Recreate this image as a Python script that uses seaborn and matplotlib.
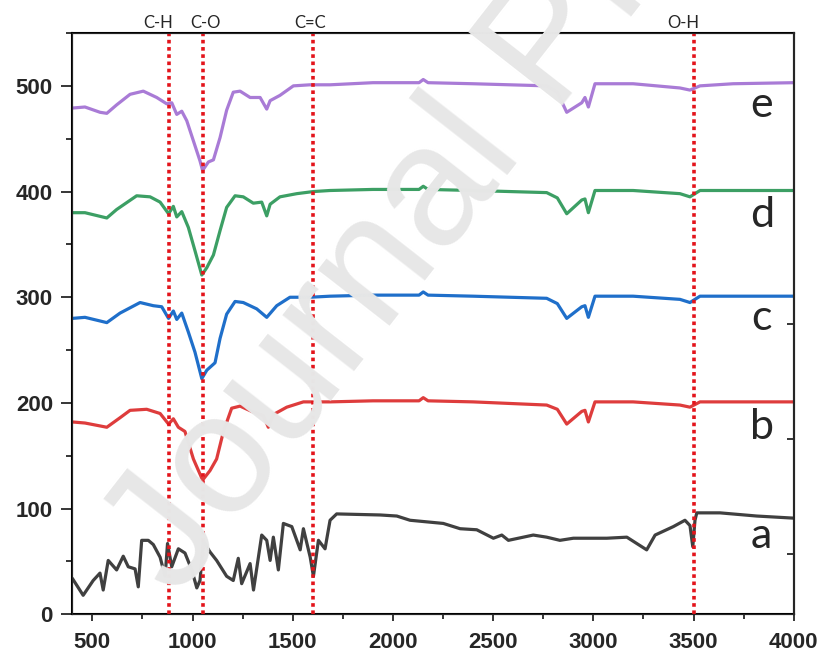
import numpy as np
import pandas as pd
import seaborn as sns
import matplotlib
matplotlib.use('Agg')
import matplotlib.pyplot as plt
from matplotlib.ticker import AutoMinorLocator

# FTIR spectra (wavenumber in cm-1, offset signal)
wn_a = [400, 454, 504, 538, 554, 579, 621, 654, 679, 713, 729, 746, 779, 804, 838,
        863, 875, 896, 929, 962, 996, 1021, 1037, 1054, 1087, 1120, 1170, 1203, 1228, 1245,
        1287, 1304, 1345, 1370, 1387, 1403, 1428, 1453, 1495, 1537, 1553, 1587, 1603, 1628, 1661,
        1686, 1719, 1936, 2019, 2085, 2251, 2335, 2418, 2501, 2543, 2576, 2700, 2767, 2833, 2900,
        3067, 3167, 3266, 3308, 3399, 3457, 3482, 3496, 3507, 3516, 3632, 3815, 4000]
sig_a = [34, 18, 32, 39, 23, 51, 42, 55, 45, 43, 26, 70, 70, 66, 54,
         36, 67, 45, 62, 58, 42, 25, 32, 69, 59, 51, 36, 32, 53, 29,
         48, 23, 75, 70, 51, 73, 42, 86, 83, 61, 81, 54, 36, 70, 62,
         89, 95, 94, 93, 89, 86, 81, 80, 72, 75, 70, 75, 73, 70, 72,
         72, 73, 61, 75, 83, 89, 84, 64, 89, 96, 96, 93, 91]

wn_b = [400, 463, 572, 638, 688, 771, 838, 880, 904, 929, 962, 1004, 1050, 1087, 1120,
        1154, 1195, 1237, 1295, 1353, 1378, 1403, 1470, 1553, 1686, 1900, 2130, 2151, 2175,
        2400, 2767, 2820, 2867, 2942, 2958, 2975, 3008, 3198, 3432, 3482, 3532, 3697, 4000]
sig_b = [182, 181, 177, 186, 193, 194, 190, 180, 185, 177, 173, 147, 127, 136, 147,
         173, 195, 197, 192, 188, 177, 189, 196, 201, 201, 202, 202, 205, 202,
         201, 198, 194, 180, 192, 193, 182, 201, 201, 198, 196, 201, 201, 201]

wn_c = [400, 463, 572, 638, 738, 804, 846, 880, 904, 921, 946, 979, 1012, 1046, 1071,
        1112, 1137, 1170, 1212, 1253, 1320, 1370, 1420, 1486, 1586, 1686, 1900, 2130, 2151,
        2175, 2400, 2767, 2820, 2867, 2942, 2958, 2975, 3008, 3198, 3432, 3482, 3532, 3697, 4000]
sig_c = [280, 281, 276, 285, 295, 292, 291, 280, 287, 279, 285, 267, 248, 223, 231,
         238, 261, 284, 296, 295, 289, 281, 292, 300, 300, 301, 302, 302, 305,
         302, 301, 299, 294, 280, 291, 292, 281, 301, 301, 298, 295, 301, 301, 301]

wn_d = [400, 463, 572, 621, 721, 788, 838, 880, 904, 921, 946, 979, 1012, 1046, 1071,
        1104, 1137, 1170, 1212, 1253, 1303, 1345, 1370, 1387, 1436, 1520, 1603, 1686, 1900,
        2130, 2151, 2175, 2400, 2767, 2820, 2867, 2942, 2958, 2975, 3008, 3198, 3432, 3482,
        3532, 3697, 4000]
sig_d = [380, 380, 375, 383, 396, 395, 390, 379, 386, 376, 381, 366, 344, 321, 328,
         340, 363, 385, 396, 395, 389, 390, 377, 388, 395, 398, 400, 401, 402,
         402, 405, 402, 401, 399, 394, 379, 392, 393, 380, 401, 401, 398, 395,
         401, 401, 401]

wn_e = [400, 463, 538, 572, 621, 688, 754, 821, 871, 896, 921, 946, 971, 1004, 1037,
        1050, 1079, 1104, 1137, 1170, 1203, 1237, 1287, 1337, 1370, 1387, 1436, 1503, 1586,
        1686, 1900, 2130, 2151, 2175, 2400, 2767, 2820, 2867, 2942, 2958, 2975, 3008, 3198,
        3432, 3482, 3532, 3697, 4000]
sig_e = [479, 480, 475, 474, 482, 492, 495, 489, 483, 484, 473, 476, 467, 448, 429,
         420, 428, 430, 451, 477, 494, 495, 489, 489, 478, 486, 491, 500, 501,
         501, 503, 503, 506, 503, 502, 500, 494, 475, 484, 489, 480, 502, 502,
         498, 496, 500, 502, 503]

samples = ["a", "b", "c", "d", "e"]
colors = ["#404040", "#de3c3c", "#1f6fca", "#3c9f64", "#a97bd6"]
letter_y = [63, 166, 269, 366, 471]

bands = [880, 1050, 1600, 3500]
band_labels = ["C-H", "C-O", "C=C", "O-H"]

sns.set_style("ticks")
plt.rcParams['font.family'] = ['Liberation Sans', 'DejaVu Sans']

frames = []
for name, wn, sig in zip(samples, [wn_a, wn_b, wn_c, wn_d, wn_e],
                         [sig_a, sig_b, sig_c, sig_d, sig_e]):
    frames.append(pd.DataFrame({"wavenumber": wn, "signal": sig, "sample": name}))
df = pd.concat(frames, ignore_index=True)

fig, ax = plt.subplots(figsize=(8.23, 6.55), dpi=100)
fig.subplots_adjust(left=0.0879, right=0.9645, bottom=0.0621, top=0.9496)

sns.lineplot(data=df, x="wavenumber", y="signal", hue="sample",
             palette=dict(zip(samples, colors)), estimator=None, sort=False,
             linewidth=2.3, legend=False, ax=ax)

for b, lab, lx in zip(bands, band_labels, [828, 1065, 1586, 3447]):
    ax.axvline(b, color="#e3141b", linestyle=(0, (1, 1)), linewidth=2.6, zorder=5)
    ax.text(lx, 1.003, lab, transform=ax.get_xaxis_transform(), ha="center",
            va="bottom", fontsize=12, family=["Lato", "DejaVu Sans"])

for name, yy in zip(samples, letter_y):
    ax.text(3840, yy, name, ha="center", va="baseline", fontsize=31,
            family=["Lato", "DejaVu Sans"])

ax.set_xlim(400, 4000)
ax.set_ylim(0, 550)
ax.set_xticks(range(500, 4001, 500))
ax.set_yticks(range(0, 501, 100))
ax.xaxis.set_minor_locator(AutoMinorLocator(2))
ax.yaxis.set_minor_locator(AutoMinorLocator(2))
ax.set_xlabel("")
ax.set_ylabel("")
ax.tick_params(axis="y", which="major", length=8, width=1.3, pad=6, labelsize=16)
ax.tick_params(axis="y", which="minor", length=4, width=1.3)
ax.tick_params(axis="x", which="major", length=5, width=1.3, pad=8, labelsize=16)
ax.tick_params(axis="x", which="minor", length=3.5, width=1.3)
for lab in ax.get_xticklabels() + ax.get_yticklabels():
    lab.set_fontweight("bold")
for sp in ax.spines.values():
    sp.set_visible(True)
    sp.set_linewidth(1.5)
    sp.set_color("black")

ax2 = ax.twinx()
ax2.set_ylim(0, 550)
ax2.set_yticks([57, 166, 275])
ax2.tick_params(axis="y", direction="in", length=5, width=1.3, labelright=False)
ax2.spines["right"].set_linewidth(1.5)

# journal watermark drawn over the plot
fig.text(0.215, 0.085, "Journal Pre-proof", rotation=52, rotation_mode="anchor",
         ha="left", va="baseline", fontsize=124, color="#e7e7e7", zorder=10)

fig.savefig("out.png", dpi=100)
